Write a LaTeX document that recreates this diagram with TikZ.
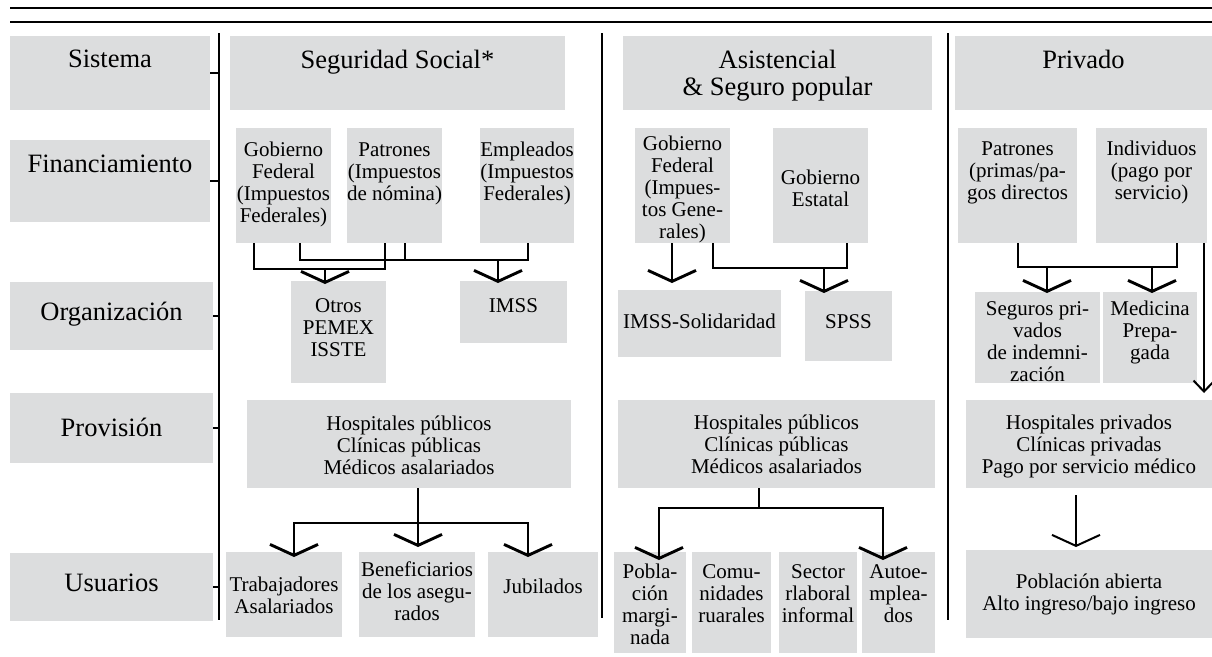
\documentclass[tikz,border=0pt]{standalone}
\usepackage{fontspec}
\setmainfont{Liberation Serif}
\usetikzlibrary{arrows.meta,calc}
\definecolor{boxgray}{RGB}{220,221,222}
\newcommand\cb[4]{\parbox[c][#2pt][t]{#1pt}{\centering\vspace*{#3pt}\strut#4}}
\begin{document}
\begin{tikzpicture}[x=1pt,y=-1pt,
  cell/.style={fill=boxgray,inner sep=0pt,outer sep=0pt,anchor=north west,font=\fontsize{21}{22}\selectfont},
  lab/.style={cell,font=\fontsize{26.5}{25}\selectfont},
  rule/.style={line width=2.7pt},
  conn/.style={line width=2.9pt},
  flow/.style={conn,-{Straight Barb[width=48pt,length=11pt]}},
  flowthin/.style={line width=2pt,-{Straight Barb[width=48pt,length=11pt]}},
  thinarrow/.style={line width=2pt,-{Straight Barb[width=21pt,length=11pt]}}
]
\useasboundingbox (0,0) rectangle (1212,656);

% top rules
\coordinate (r1a) at (10,8); \coordinate (r1b) at (1212,8);
\coordinate (r2a) at (10,22); \coordinate (r2b) at (1212,22);
\draw[rule] (r1a) -- (r1b);
\draw[rule] (r2a) -- (r2b);

% left labels
\node[lab] (sis) at (10,36)  {\cb{200}{74}{14}{Sistema}};
\node[lab] (fin) at (10,140) {\cb{200}{82}{15}{Financiamiento}};
\node[lab] (org) at (10,282) {\cb{203}{68}{20}{Organización}};
\node[lab] (pro) at (10,393) {\cb{203}{70}{25}{Provisión}};
\node[lab] (usu) at (10,553) {\cb{203}{68}{21}{Usuarios}};

% headers
\node[lab] (hss) at (230,36) {\cb{335}{74}{14}{Seguridad Social*}};
\node[lab] (has) at (623,36) {\cb{309}{74}{14}{Asistencial\\\& Seguro popular}};
\node[lab] (hpr) at (955,36) {\cb{257}{74}{14}{Privado}};

% separators
\coordinate (sLt) at (219,33); \coordinate (sLb) at (219,620);
\coordinate (sMt) at (602,33); \coordinate (sMb) at (602,618);
\coordinate (sRt) at (948,33); \coordinate (sRb) at (948,620);
\draw[rule] (sLt) -- (sLb);
\draw[rule] (sMt) -- (sMb);
\draw[rule] (sRt) -- (sRb);
\foreach \n in {sis,fin,org,pro,usu}{\draw[rule] (\n.east) -- (\n.east -| sLt);}

% Seguridad social
\node[cell] (ssgf)  at (236,128) {\cb{95}{115}{12.6}{Gobierno\\Federal\\(Impuestos\\Federales)}};
\node[cell] (sspat) at (347,128) {\cb{95}{115}{12.6}{Patrones\\(Impuestos\\de nómina)}};
\node[cell] (ssemp) at (480,128) {\cb{94}{115}{12.6}{Empleados\\(Impuestos\\Federales)}};
\node[cell] (ssotr) at (291,281) {\cb{95}{102}{15.6}{Otros\\PEMEX\\ISSTE}};
\node[cell] (ssims) at (460,281) {\cb{107}{62}{15.6}{IMSS}};
\node[cell] (sshosp) at (247,400) {\cb{324}{88}{14.6}{Hospitales públicos\\Clínicas públicas\\Médicos asalariados}};
\node[cell] (sstrab) at (226,552) {\cb{116}{85}{23.6}{Trabajadores\\Asalariados}};
\node[cell] (ssben) at (359,552) {\cb{116}{85}{8.6}{Beneficiarios\\de los asegu-\\rados}};
\node[cell] (ssjub) at (488,552) {\cb{110}{85}{25.6}{Jubilados}};

% Asistencial
\node[cell] (asgf)  at (635,128) {\cb{95}{115}{6.6}{Gobierno\\Federal\\(Impues-\\tos Gene-\\rales)}};
\node[cell] (asge)  at (773,128) {\cb{95}{115}{40.6}{Gobierno\\Estatal}};
\node[cell] (asims) at (618,290) {\cb{163}{67}{22.6}{IMSS-Solidaridad}};
\node[cell] (asspss) at (805,291) {\cb{87}{70}{21.6}{SPSS}};
\node[cell] (ashosp) at (618,400) {\cb{317}{88}{13.6}{Hospitales públicos\\Clínicas públicas\\Médicos asalariados}};
\node[cell] (aspob) at (614,552) {\cb{72}{101}{10.6}{Pobla-\\ción\\margi-\\nada}};
\node[cell] (ascom) at (692,552) {\cb{79}{101}{10.6}{Comu-\\nidades\\ruarales}};
\node[cell] (assec) at (779,552) {\cb{78}{101}{10.6}{Sector\\rlaboral\\informal}};
\node[cell] (asaut) at (862,552) {\cb{73}{101}{10.6}{Autoe-\\mplea-\\dos}};

% Privado
\node[cell] (ppat)  at (958,128)  {\cb{119}{115}{11.6}{Patrones\\(primas/pa-\\gos directos}};
\node[cell] (pind)  at (1096,128) {\cb{111}{115}{11.6}{Individuos\\(pago por\\servicio)}};
\node[cell] (pseg)  at (975,292)  {\cb{125}{91}{8}{Seguros pri-\\vados\\de indemni-\\zación}};
\node[cell] (pmed)  at (1103,292) {\cb{94}{91}{8}{Medicina\\Prepa-\\gada}};
\node[cell] (phosp) at (966,400)  {\cb{246}{88}{13.6}{Hospitales privados\\Clínicas privadas\\Pago por servicio médico}};
\node[cell] (ppob)  at (966,550)  {\cb{246}{88}{22.6}{Población abierta\\Alto ingreso/bajo ingreso}};

% --- connectors: Seguridad social
\draw[conn] ([xshift=18pt]ssgf.south west) -- ++(0,26) -| ([xshift=38pt]sspat.south west);
\coordinate (jA) at (325,269);
\draw[flow] (jA) -- ([yshift=-3pt]jA |- ssotr.north);
\draw[conn] ([xshift=64pt]ssgf.south west) -- ++(0,17) -| ([xshift=48pt]ssemp.south west);
\draw[conn] ([xshift=58pt]sspat.south west) -- ++(0,17);
\coordinate (jB) at (498,260);
\draw[flow] (jB) -- ([yshift=-2pt]jB |- ssims.north);
\draw[conn] ([xshift=171pt]sshosp.south west) -- ++(0,35) coordinate (jC);
\draw[flow] (jC) -| ([xshift=68pt,yshift=-5pt]sstrab.north west);
\draw[flow] (jC) -| ([xshift=40pt,yshift=-5pt]ssjub.north west);
\draw[flow] (jC) -- ([yshift=5pt]jC |- ssben.north);

% --- connectors: Asistencial
\draw[flow] ([xshift=37pt]asgf.south west) -- ++(0,40);
\draw[conn] ([xshift=78pt]asgf.south west) -- ++(0,25) -| ([xshift=74pt]asge.south west);
\coordinate (jD) at (824,268);
\draw[flow] (jD) -- ++(0,25);
\draw[conn] ([xshift=141pt]ashosp.south west) -- ++(0,20) coordinate (jE);
\draw[flow] (jE) -| ([xshift=45pt,yshift=-8pt]aspob.north west);
\draw[flow] (jE) -| ([xshift=21pt,yshift=-8pt]asaut.north west);

% --- connectors: Privado
\draw[conn] ([xshift=60pt]ppat.south west) -- ++(0,24) -| ([xshift=81pt]pind.south west);
\coordinate (jF) at (1047,267);
\coordinate (jG) at (1152,267);
\draw[flow] (jF) -- ++(0,26);
\draw[flow] (jG) -- ++(0,26);
\draw[thinarrow] ([xshift=-3pt]pind.south east) -- ([xshift=-8pt,yshift=7pt]phosp.north east);
\draw[flowthin] ([xshift=110pt,yshift=-7pt]phosp.south west) -- ([xshift=110pt,yshift=3pt]ppob.north west);
\end{tikzpicture}
\end{document}
